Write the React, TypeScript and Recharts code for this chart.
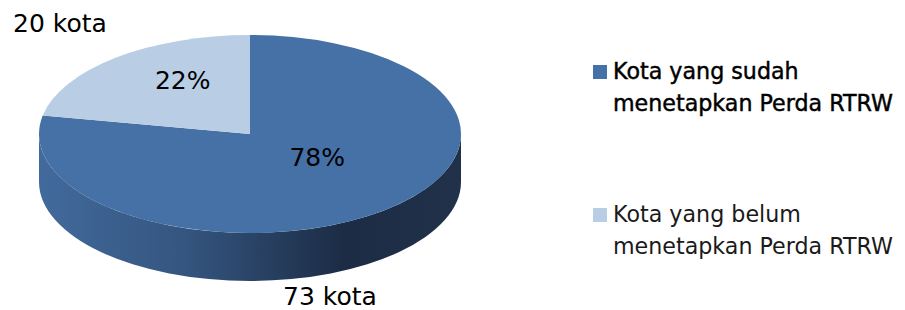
import React from 'react';
import { PieChart, Pie, Cell, Legend, Customized } from 'recharts';

const CATEGORIES = ['Kota yang sudah menetapkan Perda RTRW', 'Kota yang belum menetapkan Perda RTRW'];
const PERCENTS = [78, 22];
const COUNTS = [73, 20];
const COLORS = ['#4571a6', '#b9cde5'];

const data = CATEGORIES.map((name, i) => ({ name, value: PERCENTS[i], count: COUNTS[i] }));

const W = 897;
const H = 302;
const CX = 242;
const CY = 126;
const R = 211;
const K = 0.469; // vertical squash of the 3D tilt
const DEPTH = 48;
const SHIFT = -15; // perspective shift of label centre
const FONT = "'DejaVu Sans', sans-serif";
const COUNT_POS = [
  { x: 322, y: 297 },
  { x: 52, y: 24 },
];

const RAD = Math.PI / 180;

const Side = () => {
  const ry = R * K;
  const l = CX - R;
  const r = CX + R;
  const d = `M ${l} ${CY} L ${l} ${CY + DEPTH} A ${R} ${ry} 0 0 0 ${r} ${CY + DEPTH} L ${r} ${CY} A ${R} ${ry} 0 0 1 ${l} ${CY} Z`;
  return (
    <g>
      <defs>
        <linearGradient id="sideGrad" x1="0" y1="0" x2="1" y2="0">
          <stop offset="0" stopColor="#426a9c" />
          <stop offset="0.35" stopColor="#34557f" />
          <stop offset="0.72" stopColor="#1c2c45" />
          <stop offset="1" stopColor="#203149" />
        </linearGradient>
      </defs>
      <path d={d} fill="url(#sideGrad)" />
    </g>
  );
};

const renderLabel = (props: any) => {
  const { cx, cy, midAngle, outerRadius, index, value } = props;
  const x = cx + outerRadius * 0.5 * Math.cos(-midAngle * RAD);
  const y = cy + outerRadius * K * 0.5 * Math.sin(-midAngle * RAD) + SHIFT;
  const cp = COUNT_POS[index];
  return (
    <g>
      <text x={x} y={y} textAnchor="middle" dominantBaseline="central" fontFamily={FONT} fontSize={25} fill="#000">
        {`${value}%`}
      </text>
      <text x={cp.x} y={cp.y} textAnchor="middle" fontFamily={FONT} fontSize={25} fill="#000">
        {`${COUNTS[index]} kota`}
      </text>
    </g>
  );
};

const renderLegend = () => {
  return (
    <div style={{ fontFamily: FONT, fontSize: 22.2, lineHeight: '32px' }}>
      {data.map((entry, i) => (
        <div key={i} style={{ display: 'flex', alignItems: 'flex-start', marginTop: i === 0 ? 0 : 79 }}>
          <div style={{ width: 14, height: 14, background: COLORS[i], marginTop: 10, marginRight: 6, flex: '0 0 14px' }} />
          <div
            style={{
              width: 290,
              color: i === 0 ? '#000' : '#1a1a1a',
              WebkitTextStroke: i === 0 ? '0.45px #000' : undefined,
              textAlign: 'left',
              whiteSpace: 'normal',
            }}
          >
            {entry.name}
          </div>
        </div>
      ))}
    </div>
  );
};

export default function App() {
  return (
    <div style={{ width: W, height: H, position: 'relative' }}>
      <style>{`.top-pie path.recharts-sector { transform-origin: ${CX}px ${CY}px; transform: scaleY(${K}); }`}</style>
      <PieChart width={W} height={H} margin={{ top: 0, right: 0, bottom: 0, left: 0 }}>
        <Customized component={Side} />
        <Pie
          className="top-pie"
          data={data}
          dataKey="value"
          nameKey="name"
          cx={CX}
          cy={CY}
          outerRadius={R}
          startAngle={90}
          endAngle={-270}
          stroke="none"
          label={renderLabel}
          labelLine={false}
          isAnimationActive={false}
        >
          {data.map((d, i) => (
            <Cell key={d.name} fill={COLORS[i]} />
          ))}
        </Pie>
        <Legend
          content={renderLegend}
          wrapperStyle={{ position: 'absolute', left: 585, top: 47, width: 310, bottom: 'auto', right: 'auto' }}
        />
      </PieChart>
    </div>
  );
}
